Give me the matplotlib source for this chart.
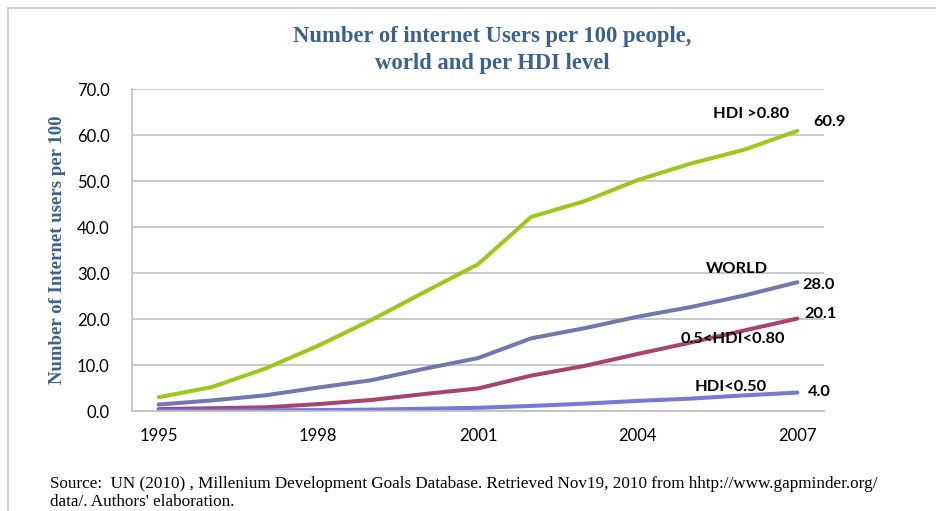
import matplotlib.pyplot as plt
from matplotlib.patches import Rectangle

# internet users per 100 people, 1995-2007
years = list(range(1995, 2008))
hdi_high = [3.0, 5.2, 9.2, 14.2, 19.8, 25.9, 31.9, 42.2, 45.6, 50.2, 53.8, 56.8, 60.9]
world = [1.4, 2.3, 3.4, 5.1, 6.7, 9.2, 11.5, 15.8, 18.0, 20.5, 22.6, 25.1, 28.0]
hdi_mid = [0.4, 0.6, 0.8, 1.5, 2.4, 3.7, 4.9, 7.7, 9.8, 12.4, 14.9, 17.5, 20.1]
hdi_low = [0.1, 0.1, 0.15, 0.2, 0.3, 0.5, 0.7, 1.1, 1.6, 2.2, 2.7, 3.4, 4.0]

series = [
    (hdi_high, "#9DC81B", "HDI >0.80"),
    (world, "#7476B0", "WORLD"),
    (hdi_mid, "#A8426F", "0.5<HDI<0.80"),
    (hdi_low, "#7679D6", "HDI<0.50"),
]

W, H = 937, 511
fig = plt.figure(figsize=(W / 100, H / 100), dpi=100)

# outer frame of the chart box
fig.patches.append(Rectangle((8 / W, -0.1), 1.2, 1 - 8 / H + 0.1,
                             transform=fig.transFigure, fill=False,
                             edgecolor="#c8c8c8", linewidth=1.2))

ax = fig.add_axes([132 / W, 1 - 411 / H, (824 - 132) / W, (411 - 89) / H])

for vals, col, name in series:
    ax.plot(years, vals, color=col, linewidth=2.9, solid_capstyle="round")

ax.set_xlim(1994.5, 2007.5)
ax.set_ylim(0, 70)
ax.set_xticks([1995, 1998, 2001, 2004, 2007])
ax.set_yticks(range(0, 71, 10))
ax.set_yticklabels(["%.1f" % v for v in range(0, 71, 10)])
ax.grid(axis="y", color="#c0c0c0", linewidth=1.2)
ax.set_axisbelow(True)
for s in ["top", "right"]:
    ax.spines[s].set_visible(False)
for s in ["left", "bottom"]:
    ax.spines[s].set_color("#bdbdbd")
    ax.spines[s].set_linewidth(1.2)
ax.tick_params(length=0, labelsize=12, pad=16)
ax.tick_params(axis="x", pad=12)
for lab in ax.get_xticklabels() + ax.get_yticklabels():
    lab.set_fontfamily("Lato")

# series names and end values
lbl = dict(fontfamily="Lato", fontweight="bold", fontsize=11.8)
ax.text(2006.13, 64.6, "HDI >0.80", ha="center", va="center", **lbl)
ax.text(2005.87, 30.9, "WORLD", ha="center", va="center", **lbl)
ax.text(2005.79, 15.6, "0.5<HDI<0.80", ha="center", va="center", **lbl)
ax.text(2005.75, 5.2, "HDI<0.50", ha="center", va="center", **lbl)
ax.text(2007.3, hdi_high[-1] + 2.0, "%.1f" % hdi_high[-1], ha="left", va="center", **lbl)
ax.text(2007.1, world[-1] - 0.5, "%.1f" % world[-1], ha="left", va="center", **lbl)
ax.text(2007.13, hdi_mid[-1] + 1.0, "%.1f" % hdi_mid[-1], ha="left", va="center", **lbl)
ax.text(2007.2, hdi_low[-1] + 0.2, "%.1f" % hdi_low[-1], ha="left", va="center", **lbl)

blue = "#3A6190"
fig.text(492 / W, 1 - 50 / H, "Number of internet Users per 100 people,\nworld and per HDI level",
         ha="center", va="center", fontfamily="Liberation Serif", fontweight="bold",
         fontsize=16.3, color=blue, linespacing=1.33)
fig.text(58 / W, 1 - 250 / H, "Number of Internet users per 100", rotation=90,
         ha="center", va="center", fontfamily="Liberation Serif", fontweight="bold",
         fontsize=13.5, color=blue)

fig.text(50 / W, 1 - 493 / H,
         "Source:  UN (2010) , Millenium Development Goals Database. Retrieved Nov19, 2010 "
         "from hhtp://www.gapminder.org/\ndata/. Authors' elaboration.",
         ha="left", va="center", fontfamily="Liberation Serif", fontsize=12.3,
         linespacing=1.2)

fig.savefig("out.png", dpi=100)
